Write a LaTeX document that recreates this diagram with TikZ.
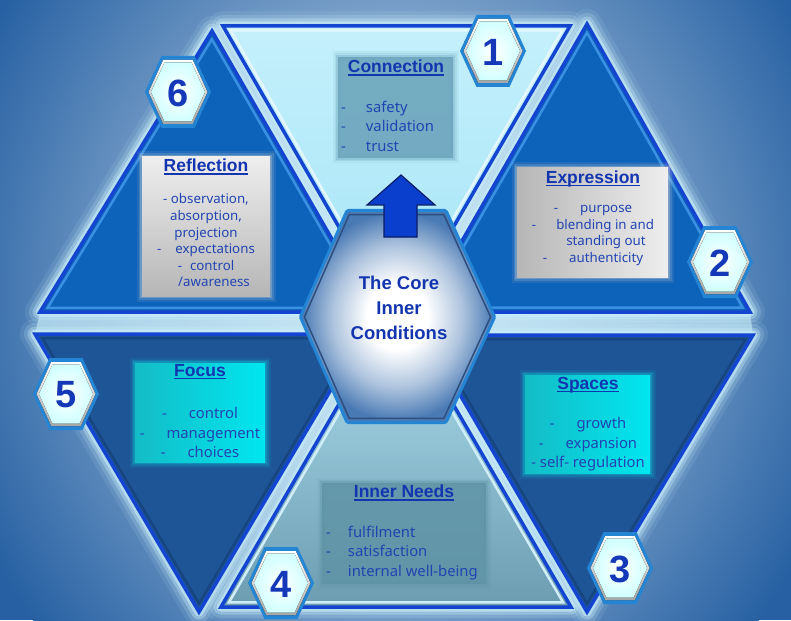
\documentclass[tikz,border=0pt]{standalone}
\usepackage{fontspec}
\setmainfont{Noto Sans}
\newfontfamily\arialfont{Liberation Sans}
\usetikzlibrary{calc}
\definecolor{bgdark}{HTML}{2761A3}
\definecolor{bglight}{HTML}{D6E6F3}
\definecolor{glow}{HTML}{C9EEFA}
\definecolor{edgeblue}{HTML}{1445D0}
\definecolor{tonefill}{HTML}{A5E4F7}
\definecolor{tonetop}{HTML}{C4F0FB}
\definecolor{ttwofill}{HTML}{0D62BA}
\definecolor{ttwoline}{HTML}{3A90E2}
\definecolor{tthreefill}{HTML}{1D5597}
\definecolor{tthreeline}{HTML}{17457F}
\definecolor{tfourtop}{HTML}{B0E2F2}
\definecolor{tfourbot}{HTML}{6C9CB0}
\definecolor{conbox}{HTML}{6DA5BD}
\definecolor{needbox}{HTML}{5F93A6}
\definecolor{titleblue}{HTML}{1335B0}
\definecolor{bodyblue}{HTML}{2244B2}
\definecolor{numblue}{HTML}{1438B8}
\definecolor{hexedge}{HTML}{2585D5}
\definecolor{hexouter}{HTML}{4A7AB4}
\definecolor{hexinner}{HTML}{2C4E80}
\definecolor{arrowfill}{HTML}{0A3FCE}
\definecolor{arrowline}{HTML}{0B1E66}
\definecolor{cyanL}{HTML}{14BCC6}
\definecolor{cyanR}{HTML}{00E6F0}
\definecolor{grayL}{HTML}{B6B6B6}
\definecolor{grayR}{HTML}{EEEEEE}
\pgfdeclareradialshading{hexshade}{\pgfpoint{0bp}{0bp}}{color(0bp)=(white); color(8bp)=(white); color(17bp)=(hexouter!45!white); color(25bp)=(hexouter); color(50bp)=(hexouter)}
\newcommand\myul[1]{\setbox0\hbox{#1}\rlap{\rule[-2.8pt]{\wd0}{1.3pt}}\box0}
\newcommand\drawtri[3]{%
  \path[#2] (#1a) -- (#1b) -- (#1c) -- cycle;
  \draw[#3, line width=2.5pt] ($(#1m)!0.955!(#1a)$) -- ($(#1m)!0.955!(#1b)$) -- ($(#1m)!0.955!(#1c)$) -- cycle;
  \draw[edge] (#1a) -- (#1b) -- (#1c) -- cycle;}
\newcommand\glowtri[1]{%
  \draw[glowA] (#1a) -- (#1b) -- (#1c) -- cycle;
  \draw[glowB] (#1a) -- (#1b) -- (#1c) -- cycle;
  \draw[glowC] (#1a) -- (#1b) -- (#1c) -- cycle;
  \draw[glowD] (#1a) -- (#1b) -- (#1c) -- cycle;}
\newcommand\softbox[3]{% corners, edge colour
  \draw[#3, line width=11pt, opacity=0.10] #1 rectangle #2;
  \draw[#3, line width=7pt, opacity=0.18] #1 rectangle #2;
  \draw[#3, line width=3.5pt, opacity=0.3] #1 rectangle #2;}
\newcommand\badge[4]{%
  \begin{scope}[shift={(#2,#3)}]
  \fill[hexedge] (-33,0) -- (-16.5,-36) -- (16.5,-36) -- (33,0) -- (16.5,36) -- (-16.5,36) -- cycle;
  \fill[top color=white, bottom color=gray!70] (-29.5,0) -- (-14.75,-32) -- (14.75,-32) -- (29.5,0) -- (14.75,32) -- (-14.75,32) -- cycle;
  \fill[inner color=white, outer color=cyan!18] (-27,0) -- (-13.5,-29.5) -- (13.5,-29.5) -- (27,0) -- (13.5,29.5) -- (-13.5,29.5) -- cycle;
  \node[num] (#1) at (0,1) {#4};
  \end{scope}}
\begin{document}
\begin{tikzpicture}[x=1pt,y=-1pt,
  title/.style={font=\arialfont\bfseries\fontsize{17.5}{20}\selectfont, text=titleblue, inner sep=0pt},
  body/.style={font=\fontsize{14.8}{19.5}\selectfont, text=bodyblue, align=center, inner sep=0pt},
  smallbody/.style={font=\fontsize{13.3}{16.6}\selectfont, text=bodyblue, align=center, inner sep=0pt},
  num/.style={font=\arialfont\bfseries\fontsize{38}{40}\selectfont, text=numblue, inner sep=0pt},
  glowA/.style={draw=glow, line width=30pt, line join=round, opacity=0.10},
  glowB/.style={draw=glow, line width=22pt, line join=round, opacity=0.18},
  glowC/.style={draw=glow, line width=15pt, line join=round, opacity=0.35},
  glowD/.style={draw=glow, line width=9pt, line join=round, opacity=0.6},
  edge/.style={draw=edgeblue, line width=3.5pt},
]
\useasboundingbox (0,0) rectangle (791,620);
% background
\fill[bgdark] (0,0) rectangle (791,620);
\begin{scope}
  \clip (0,0) rectangle (791,620);
  \shade[inner color=bglight, outer color=bgdark] (396,290) ellipse [x radius=470pt, y radius=520pt];
\end{scope}
% triangle vertices
\coordinate (t1a) at (223,26);  \coordinate (t1b) at (570,26);  \coordinate (t1c) at (396,326);
\coordinate (t2a) at (587,24);  \coordinate (t2b) at (750,312); \coordinate (t2c) at (421,312);
\coordinate (t6a) at (212,31);  \coordinate (t6b) at (40,312);  \coordinate (t6c) at (374,312);
\coordinate (t5a) at (35,334);  \coordinate (t5b) at (364,334); \coordinate (t5c) at (199,612);
\coordinate (t3a) at (425,335); \coordinate (t3b) at (753,335); \coordinate (t3c) at (587,612);
\coordinate (t4a) at (396,306); \coordinate (t4b) at (571,607); \coordinate (t4c) at (221,607);
\foreach \t in {t1,t2,t3,t4,t5,t6}{\coordinate (\t m) at (barycentric cs:\t a=1,\t b=1,\t c=1);}
% bright fill of the gaps between the triangles
\fill[glow, opacity=0.75] (t6c) -- (t1c) -- (t2c) -- (t3a) -- (t4a) -- (t5b) -- cycle;
\fill[glow, opacity=0.6] (t6b) -- (t6c) -- (t5b) -- (t5a) -- cycle;
\fill[glow, opacity=0.6] (t2c) -- (t2b) -- (t3b) -- (t3a) -- cycle;
% glow
\glowtri{t1}\glowtri{t2}\glowtri{t3}\glowtri{t4}\glowtri{t5}\glowtri{t6}
% triangles
\drawtri{t1}{top color=tonetop, bottom color=tonefill}{draw=white!70!tonefill}
\drawtri{t2}{fill=ttwofill}{draw=ttwoline}
\drawtri{t6}{fill=ttwofill}{draw=ttwoline}
\drawtri{t3}{fill=tthreefill}{draw=tthreeline}
\drawtri{t5}{fill=tthreefill}{draw=tthreeline}
\drawtri{t4}{top color=tfourtop, bottom color=tfourbot}{draw=tfourtop!60!white}
% text boxes
\softbox{(338,57)}{(453,158)}{conbox}
\fill[conbox, opacity=0.9] (338,57) rectangle (453,158);
\softbox{(142,157)}{(270,296)}{grayL!50!grayR}
\fill[top color=grayR, bottom color=grayL] (142,157) rectangle (270,296);
\softbox{(517,168)}{(668,277)}{grayL!50!grayR}
\fill[left color=grayL, right color=grayR] (517,168) rectangle (668,277);
\softbox{(135,363)}{(265,462)}{cyanL!50!cyanR}
\fill[left color=cyanL, right color=cyanR] (135,363) rectangle (265,462);
\softbox{(525,375)}{(650,473)}{cyanL!50!cyanR}
\fill[left color=cyanL, right color=cyanR] (525,375) rectangle (650,473);
\softbox{(322,483)}{(486,584)}{needbox}
\fill[needbox, opacity=0.85] (322,483) rectangle (486,584);
% central hexagon
\coordinate (h1) at (348,212); \coordinate (h2) at (445,212); \coordinate (h3) at (493,317);
\coordinate (h4) at (445,421); \coordinate (h5) at (348,421); \coordinate (h6) at (302,317);
\draw[hexedge, line width=6pt, line join=round] (h1) -- (h2) -- (h3) -- (h4) -- (h5) -- (h6) -- cycle;
\shade[shading=hexshade] (h1) -- (h2) -- (h3) -- (h4) -- (h5) -- (h6) -- cycle;
\draw[hexinner, line width=1.5pt] ($(397,316)!0.975!(h1)$) -- ($(397,316)!0.975!(h2)$) -- ($(397,316)!0.975!(h3)$) -- ($(397,316)!0.975!(h4)$) -- ($(397,316)!0.975!(h5)$) -- ($(397,316)!0.975!(h6)$) -- cycle;
% arrow
\draw[fill=arrowfill, draw=arrowline, line width=1.2pt] (401,175) -- (435,205) -- (417,205) -- (417,237) -- (384,237) -- (384,205) -- (367,205) -- cycle;
\node[font=\arialfont\bfseries\fontsize{18.5}{25}\selectfont, text=titleblue, align=center, inner sep=0pt] (core) at (399,308) {The Core\\Inner\\Conditions};
% titles
\node[title] (contitle) at (396,68) {\myul{Connection}};
\node[title] (reftitle) at (206,167) {\myul{Reflection}};
\node[title] (exptitle) at (593,179) {\myul{Expression}};
\node[title] (foctitle) at (200,372) {\myul{Focus}};
\node[title] (spatitle) at (588,385) {\myul{Spaces}};
\node[title] (needtitle) at (404,493) {\myul{Inner Needs}};
% bodies
\node[body, anchor=west, align=left] (conbody) at (341,128) {\begin{tabular}{@{}l@{\hspace{20pt}}l@{}}-&safety\\-&validation\\-&trust\end{tabular}};
\node[smallbody] (refbody) at (206,240.5) {- observation,\\absorption,\\projection\\-\hspace{14pt}expectations\\-\hspace{8pt}control\\\hspace{16pt}/awareness};
\node[smallbody] (expbody) at (593,235.5) {-\hspace{22pt}purpose\\-\hspace{20pt}blending in and\\\hspace{26pt}standing out\\-\hspace{22pt}authenticity};
\node[body] (focbody) at (200,432.5) {-\hspace{22pt}control\\-\hspace{22pt}management\\-\hspace{22pt}choices};
\node[body] (spabody) at (588,444.5) {-\hspace{22pt}growth\\-\hspace{22pt}expansion\\- self- regulation};
\node[body, anchor=west, align=left] (needbody) at (326,553) {\begin{tabular}{@{}l@{\hspace{17pt}}l@{}}-&fulfilment\\-&satisfaction\\-&internal well-being\end{tabular}};
% badges
\badge{b1}{493}{51}{1}
\badge{b2}{720}{262}{2}
\badge{b3}{620}{568}{3}
\badge{b4}{281}{583}{4}
\badge{b5}{66}{394}{5}
\badge{b6}{178}{92}{6}
\end{tikzpicture}
\end{document}
